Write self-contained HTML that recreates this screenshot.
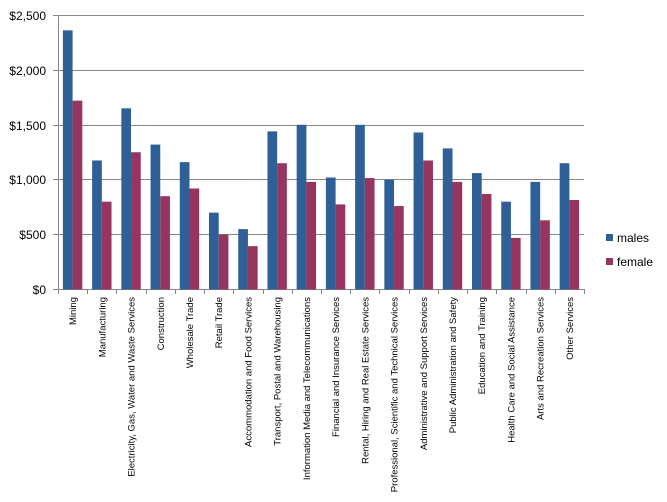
<!DOCTYPE html><html><head><style>body{margin:0;background:#fff}svg{display:block;font-family:"Liberation Sans",sans-serif}</style></head><body>
<svg width="667" height="502" xmlns="http://www.w3.org/2000/svg">
<g stroke="#878787" stroke-width="1">
<line x1="53" y1="15.5" x2="584" y2="15.5"/><line x1="53" y1="70.5" x2="584" y2="70.5"/><line x1="53" y1="125.5" x2="584" y2="125.5"/><line x1="53" y1="179.5" x2="584" y2="179.5"/><line x1="53" y1="234.5" x2="584" y2="234.5"/><line x1="53" y1="289.5" x2="584" y2="289.5"/>
<line x1="58.5" y1="15" x2="58.5" y2="289"/>
</g>
<g font-size="12" fill="#000" text-anchor="end">
<text x="46" y="20">$2,500</text><text x="46" y="75">$2,000</text><text x="46" y="130">$1,500</text><text x="46" y="184">$1,000</text><text x="46" y="239">$500</text><text x="46" y="294">$0</text>
</g>
<g id="bars"></g><g id="ticks" stroke="#878787"></g><g id="labels" font-size="9.5"></g>
<rect x="606" y="234" width="7" height="7" fill="#2E5F97"/><rect x="606" y="258" width="7" height="7" fill="#953560"/>
<text x="617" y="242" font-size="12">males</text><text x="617" y="266" font-size="12">female</text>
<script>
var d=[["Mining",2360,1720],["Manufacturing",1175,800],["Electricity, Gas, Water and Waste Services",1650,1250],["Construction",1320,850],["Wholesale Trade",1160,920],["Retail Trade",700,500],["Accommodation and Food Services",550,395],["Transport, Postal and Warehousing",1440,1150],["Information Media and Telecommunications",1500,980],["Financial and Insurance Services",1020,775],["Rental, Hiring and Real Estate Services",1500,1015],["Professional, Scientific and Technical Services",1000,760],["Administrative and Support Services",1430,1175],["Public Administration and Safety",1285,980],["Education and Training",1060,870],["Health Care and Social Assistance",800,470],["Arts and Recreation Services",980,630],["Other Services",1150,815]];
var ns="http://www.w3.org/2000/svg",b=document.getElementById("bars"),t=document.getElementById("ticks"),l=document.getElementById("labels");
var w=(584-58)/18,z=289.5,s=274.5/2500;
function el(p,n,a){var e=document.createElementNS(ns,n);for(var k in a)e.setAttribute(k,a[k]);p.appendChild(e);return e}
d.forEach(function(r,i){var x0=58+i*w;
el(b,"rect",{x:x0+4.9,y:z-r[1]*s,width:9.7,height:r[1]*s,fill:"#2E5F97"});
el(b,"rect",{x:x0+14.6,y:z-r[2]*s,width:9.7,height:r[2]*s,fill:"#953560"});
var tx=Math.round(x0+w)+.5;el(t,"line",{x1:tx,y1:289,x2:tx,y2:294});
var cx=x0+w/2+3.5;var e=el(l,"text",{transform:"translate("+cx+",297) rotate(-90)","text-anchor":"end"});e.textContent=r[0];});
el(t,"line",{x1:58.5,y1:289,x2:58.5,y2:294});
</script>
</svg></body></html>
